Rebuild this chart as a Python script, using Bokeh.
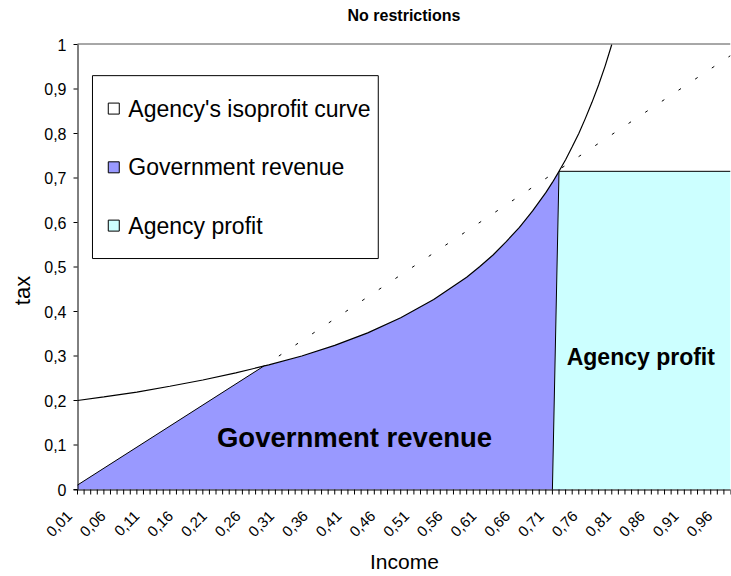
import math
from bokeh.plotting import figure
from bokeh.models import Range1d, FixedTicker, Title
from bokeh.core.properties import value
from bokeh.embed import file_html
from bokeh.resources import INLINE

FONT = "Liberation Sans"

# ---- data ----
income = [round((i + 1) / 100, 2) for i in range(100)]          # category axis 0,01 .. 1,00
tick_label_every = 5
y_ticks = [0, 0.1, 0.2, 0.3, 0.4, 0.5, 0.6, 0.7, 0.8, 0.9, 1.0]
y_tick_labels = ["0", "0,1", "0,2", "0,3", "0,4", "0,5", "0,6", "0,7", "0,8", "0,9", "1"]

isoprofit_income = [0.01, 0.05, 0.10, 0.15, 0.20, 0.25, 0.30, 0.35, 0.40, 0.45, 0.50, 0.55,
                    0.60, 0.62, 0.64, 0.66, 0.68, 0.70, 0.72, 0.73, 0.74, 0.75, 0.76, 0.77,
                    0.78, 0.79, 0.80, 0.81, 0.82]
isoprofit_tax = [0.200, 0.208, 0.219, 0.232, 0.246, 0.262, 0.280, 0.300, 0.324, 0.352, 0.386, 0.427,
                 0.477, 0.501, 0.527, 0.557, 0.589, 0.626, 0.667, 0.690, 0.715, 0.741, 0.770, 0.800,
                 0.834, 0.870, 0.909, 0.952, 1.000]

diagonal_income = [0.29, 1.00]
diagonal_tax = [0.275, 0.975]

revenue_income = [0.01, 0.29, 0.30, 0.35, 0.40, 0.45, 0.50, 0.55, 0.60, 0.62, 0.64, 0.66,
                  0.68, 0.70, 0.72, 0.73, 0.74, 0.75]
revenue_tax = [0.01, 0.275, 0.280, 0.300, 0.324, 0.352, 0.386, 0.427, 0.477, 0.501, 0.527, 0.557,
               0.589, 0.626, 0.667, 0.690, 0.715, 0.0]

profit_income = [0.73, 0.74, 1.00]
profit_tax = [0.0, 0.715, 0.715]

legend_labels = ["Agency's isoprofit curve", "Government revenue", "Agency profit"]
legend_colors = ["#FFFFFF", "#9999FF", "#CCFFFF"]

# ---- geometry: the frame covers the plot area plus room for the hand-drawn y axis ----
N = len(income)
PX_X0, PX_X1 = 77, 730        # pixel of first / last category
PX_Y0, PX_Y1 = 489, 44        # pixel of tax 0 / tax 1
FRAME_L, FRAME_R, FRAME_T, FRAME_B = 0, 730, 0, 499
kx = (PX_X1 - PX_X0) / (N - 1)          # px per category
ky = (PX_Y0 - PX_Y1)                    # px per tax unit
dx = lambda px: px / kx
dy = lambda px: px / ky

def to_x(vals):
    return [(v - income[0]) * 100 for v in vals]

p = figure(width=731, height=576,
           x_range=Range1d(-dx(PX_X0 - FRAME_L), N - 1),
           y_range=Range1d(-dy(FRAME_B - PX_Y0), 1 + dy(PX_Y1 - FRAME_T)),
           output_backend="svg", toolbar_location=None, y_axis_location=None,
           min_border_left=FRAME_L, min_border_right=731 - FRAME_R,
           min_border_top=FRAME_T, min_border_bottom=576 - FRAME_B)
p.background_fill_color = "white"
p.border_fill_color = "white"
p.outline_line_color = None
p.xgrid.visible = False
p.ygrid.visible = False

# areas
p.varea(x=to_x(revenue_income), y1=0, y2=revenue_tax, fill_color="#9999FF")
p.line(x=to_x(revenue_income[:2]), y=revenue_tax[:2], line_color="black", line_width=1)
p.varea(x=to_x(profit_income), y1=0, y2=profit_tax, fill_color="#CCFFFF")
p.line(x=to_x(profit_income), y=profit_tax, line_color="black", line_width=1)

# lines
p.line(x=to_x(diagonal_income), y=diagonal_tax, line_color="black", line_width=1, line_dash="3 17")
p.line(x=to_x(isoprofit_income), y=isoprofit_tax, line_color="black", line_width=1.2)

# plot-area top border
p.segment(x0=[0], y0=[1 + dy(0.5)], x1=[N - 1], y1=[1 + dy(0.5)], line_color="#505050", line_width=1)

# axes lines and ticks
p.segment(x0=[dx(0.5)], y0=[0], x1=[dx(0.5)], y1=[1], line_color="black", line_width=1)
p.segment(x0=[-dx(4)], y0=[-dy(0.5)], x1=[N - 1], y1=[-dy(0.5)], line_color="black", line_width=1)
p.segment(x0=[-dx(4)] * len(y_ticks), y0=y_ticks, x1=[0] * len(y_ticks), y1=y_ticks,
          line_color="black", line_width=1)
p.segment(x0=list(range(N)), y0=[0] * N, x1=list(range(N)), y1=[-dy(5)] * N,
          line_color="black", line_width=1)
p.text(x=[-dx(11)] * len(y_ticks), y=y_ticks, text=y_tick_labels, text_font=value(FONT),
       text_font_size=value("16px"), text_align="right", text_baseline="middle",
       text_color="black")
p.text(x=[-dx(PX_X0 - 22)], y=[dy(PX_Y0 - 290)], text=["tax"], angle=math.pi / 2,
       text_font=value(FONT), text_font_size=value("22px"), text_align="center",
       text_baseline="middle", text_color="black")

# title
p.text(x=[(N - 1) / 2], y=[1 + dy(PX_Y1 - 15)], text=["No restrictions"], text_font=value(FONT),
       text_font_size=value("16px"), text_font_style="bold", text_align="center",
       text_baseline="middle", text_color="black")

# in-plot labels
p.text(x=[42.0], y=[0.117], text=["Government revenue"], text_font=value(FONT),
       text_font_size=value("27.5px"), text_font_style="bold", text_align="center",
       text_baseline="middle", text_color="black")
p.text(x=[85.4], y=[0.297], text=["Agency profit"], text_font=value(FONT),
       text_font_size=value("23px"), text_font_style="bold", text_align="center",
       text_baseline="middle", text_color="black")

# legend (manual)
p.quad(left=[2.27], right=[45.6], bottom=[0.519], top=[0.930],
       fill_color="white", line_color="black", line_width=1)
leg_y = [0.856, 0.724, 0.593]
p.scatter(x=[5.5] * 3, y=leg_y, marker="square", size=11, fill_color=legend_colors,
          line_color="black", line_width=1)
p.text(x=[7.7] * 3, y=leg_y, text=legend_labels, text_font=value(FONT),
       text_font_size=value("23px"), text_align="left", text_baseline="middle",
       text_color="black")

# x axis: Bokeh axis carrying the rotated category labels
lab_idx = list(range(0, N, tick_label_every))
lab_pos = [i + dx(-8 + 0.144 * i) for i in lab_idx]
xa = p.xaxis[0]
xa.ticker = FixedTicker(ticks=lab_pos)
xa.major_label_overrides = {x: f"{income[i]:.2f}".replace(".", ",") for x, i in zip(lab_pos, lab_idx)}
xa.major_label_orientation = 0.785398
xa.major_label_text_font = FONT
xa.major_label_text_font_size = "15px"
xa.major_label_text_color = "black"
xa.major_label_standoff = 14
xa.major_tick_out = 0
xa.major_tick_in = 0
xa.major_tick_line_color = None
xa.minor_tick_line_color = None
xa.axis_line_color = None

income_w = 69
p.add_layout(Title(text="Income", align="left", offset=404 - FRAME_L - income_w / 2,
                   standoff=7, text_font=FONT, text_font_size="21px",
                   text_font_style="normal", text_color="black"), "below")

open("out.html", "w").write(file_html(p, INLINE))
